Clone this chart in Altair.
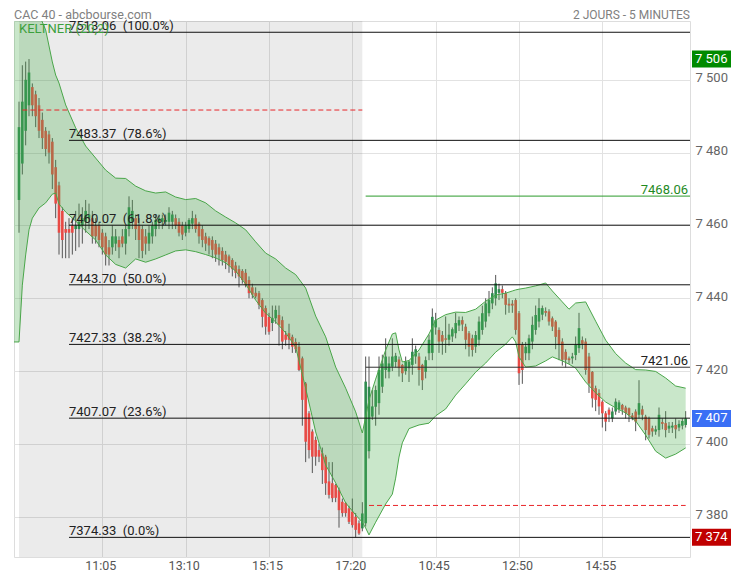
import json
import altair as alt
import pandas as pd

# ---------------- data ----------------
# session 1: 5-minute bars 09:00 .. 17:35 (index 0..103)
d1_open = [7467, 7477, 7486, 7493, 7498, 7496, 7493, 7489, 7486, 7485,
           7483, 7476, 7471, 7464, 7459, 7459, 7460, 7459, 7459, 7460,
           7461, 7462, 7462, 7460, 7460, 7458, 7457, 7454, 7454, 7455,
           7456, 7457, 7455, 7459, 7461, 7462, 7460, 7459, 7457, 7455,
           7457, 7459, 7461, 7461, 7461, 7461, 7461, 7462, 7461, 7460,
           7458, 7459, 7460.5, 7462, 7460.5, 7459, 7457, 7456.5, 7456, 7455,
           7454, 7453, 7452, 7451.5, 7450.5, 7449, 7448, 7447.5, 7447, 7445,
           7443, 7441.5, 7441.4, 7439.5, 7437.3, 7434.9, 7433.2, 7434.5, 7435.4, 7434,
           7430, 7430.4, 7429.4, 7428, 7426.7, 7423.5, 7416.6, 7408.4, 7403.4, 7401.1,
           7398.3, 7397.4, 7396.5, 7389.7, 7389.2, 7388.7, 7387.3, 7384.1, 7383.8, 7382.3,
           7381.4, 7380, 7378.2, 7376.8]
d1_high = [7494, 7504, 7505, 7505.7, 7499, 7497, 7495, 7491, 7487, 7486,
           7484, 7478, 7472, 7465, 7461, 7462, 7462, 7464, 7466, 7465,
           7467, 7466, 7464, 7462, 7461, 7459, 7458, 7456, 7460, 7459,
           7457, 7459, 7460, 7468, 7467, 7463, 7462, 7460, 7459, 7460,
           7461, 7463, 7463, 7463, 7463, 7465, 7464, 7463, 7462, 7461,
           7461, 7462, 7464, 7463, 7461, 7460, 7458, 7457, 7457, 7456,
           7455, 7454, 7453, 7452, 7451, 7450, 7449, 7448, 7448, 7446,
           7444, 7443, 7442, 7440, 7438, 7436, 7438, 7438, 7438, 7435,
           7431, 7433, 7430, 7429, 7428, 7424, 7417, 7409, 7404, 7402,
           7400, 7399, 7397, 7395, 7395, 7389, 7388, 7385, 7384, 7383,
           7385, 7381, 7379, 7384]
d1_low = [7458, 7474, 7482, 7490, 7490, 7487, 7484, 7481, 7479, 7477,
          7470, 7462, 7452, 7451, 7451, 7451, 7452, 7453, 7454, 7455,
          7458, 7459, 7455, 7455, 7454, 7452, 7449, 7449, 7452, 7453,
          7451, 7454, 7452, 7457, 7459, 7456, 7451, 7451, 7452, 7453,
          7455, 7457, 7459, 7459, 7460, 7459, 7459, 7459, 7457, 7456,
          7457, 7458, 7459, 7458, 7455, 7454, 7453, 7452, 7451, 7450,
          7449, 7449, 7448, 7447, 7446, 7445.5, 7443, 7444, 7443, 7440,
          7440, 7440, 7437, 7432, 7430, 7430, 7431, 7433, 7427, 7426,
          7427, 7426, 7425, 7425, 7420, 7405, 7395, 7396, 7392, 7394,
          7395, 7389, 7386, 7385, 7384, 7384, 7377, 7380, 7380, 7378,
          7377, 7374.33, 7375, 7376]
d1_close = [7487, 7494, 7500, 7502, 7493, 7490, 7486, 7484, 7481, 7480,
            7474, 7466, 7458, 7456, 7458, 7458, 7458, 7460, 7461, 7462,
            7464, 7463, 7457, 7457, 7456, 7454, 7452, 7452, 7457, 7457,
            7454, 7455, 7459, 7465, 7464, 7459, 7456, 7453, 7455, 7458,
            7460, 7461.5, 7462, 7462, 7461.5, 7463.5, 7463, 7460, 7458, 7457.5,
            7460, 7461.5, 7462, 7459, 7457, 7456, 7455, 7454.5, 7453.3, 7452,
            7452, 7450.5, 7450, 7449, 7448, 7447, 7446, 7445, 7443.7, 7441.4,
            7441, 7440.5, 7438.2, 7434.9, 7432.2, 7430.8, 7434.6, 7436.8, 7432.7, 7428.1,
            7428.6, 7428.6, 7426.7, 7426, 7420.3, 7412.1, 7400.6, 7398.3, 7396.5, 7396.5,
            7396.5, 7392.8, 7389.2, 7386, 7385.1, 7385.2, 7381.8, 7381, 7381, 7378.6,
            7377.7, 7376.4, 7375.4, 7380.9]

# session 2: 5-minute bars 09:00 .. 17:00 (index 104..200)
d2_open = [7378.2, 7398, 7407.5, 7410.2, 7411.2, 7415.7, 7420.3, 7419.8, 7421.2, 7422.5,
           7423.2, 7421.7, 7420, 7420.8, 7421.7, 7424, 7424, 7421.7, 7419.8, 7424.9,
           7425, 7432, 7431.3, 7429.9, 7429, 7428.6, 7429.5, 7430.4, 7432.5, 7434,
           7432.2, 7430.4, 7429, 7426.7, 7428.6, 7431.3, 7433.6, 7435.9, 7438.6, 7440,
           7441.5, 7442.5, 7441.4, 7438.5, 7438.5, 7439.5, 7435.9, 7427.2, 7424.9, 7424.9,
           7428.1, 7431.3, 7433.6, 7435.5, 7436.5, 7436.4, 7434.5, 7433.6, 7431.3, 7428.1,
           7425.3, 7423.5, 7423.5, 7424.4, 7426.3, 7428.5, 7428.1, 7424, 7419.8, 7415.3,
           7414, 7411.6, 7408.4, 7409.4, 7407, 7408.9, 7409.5, 7410.7, 7410, 7409.8,
           7407.8, 7408.9, 7408, 7409.5, 7407.5, 7407, 7404.3, 7403.4, 7403.8, 7406,
           7405.7, 7404.2, 7404.5, 7405.2, 7404.5, 7405, 7405.2]
d2_high = [7424, 7424, 7414.8, 7416, 7424, 7424.5, 7429, 7424, 7429, 7425,
           7424, 7422, 7424, 7423, 7429, 7427, 7425, 7422, 7424, 7430,
           7437.2, 7436, 7432, 7431, 7435, 7433, 7432, 7436, 7435, 7435,
           7433, 7431, 7430, 7431, 7435, 7438, 7440, 7442, 7443, 7446.4,
           7444, 7443.5, 7442, 7440, 7439.5, 7440, 7436.5, 7428, 7428, 7430,
           7435, 7438, 7440, 7438, 7437.5, 7437, 7435, 7434, 7432, 7429,
           7426, 7424, 7425, 7429.5, 7436, 7429.5, 7429, 7425, 7420, 7416,
           7415, 7412, 7409, 7410, 7410, 7412.5, 7412, 7411, 7410.5, 7410,
           7408.5, 7409.5, 7417.5, 7410.5, 7408, 7407.5, 7405, 7405, 7410, 7407,
           7409, 7406, 7406, 7407, 7406.5, 7407, 7409]
d2_low = [7377.3, 7396, 7406.6, 7405, 7408, 7414, 7418, 7418, 7420, 7421,
          7418.5, 7417, 7419, 7417, 7419, 7422, 7416, 7414.8, 7418, 7423,
          7423, 7430, 7425, 7424.5, 7425, 7427, 7428, 7429, 7431, 7431,
          7426, 7424, 7424, 7425, 7427, 7430, 7432, 7435, 7437, 7438,
          7439.5, 7440, 7435.5, 7436, 7436, 7430, 7416.2, 7416.5, 7423, 7423,
          7426, 7430, 7432, 7434, 7435, 7432.5, 7431, 7426, 7423, 7421.5,
          7421, 7422, 7422, 7423, 7425, 7426, 7419, 7414, 7410, 7409,
          7408, 7404.5, 7403.5, 7406, 7406, 7408, 7408.5, 7408, 7407, 7406,
          7406.5, 7403.5, 7407, 7406.5, 7401, 7401.5, 7402, 7402.5, 7402, 7404,
          7401.8, 7403, 7403, 7401.5, 7403.5, 7404, 7404.5]
d2_close = [7417.1, 7415.7, 7410.3, 7414.8, 7420.3, 7422.1, 7424, 7422.1, 7424, 7424.2,
            7420.8, 7419.4, 7422.6, 7422.6, 7425.3, 7426, 7420.3, 7417.5, 7423, 7428.6,
            7434.9, 7434, 7428.1, 7428.1, 7428.6, 7430, 7431.5, 7433.2, 7434, 7432.8,
            7428.6, 7426.7, 7425.8, 7429.9, 7433.6, 7435.9, 7438.6, 7439.5, 7441.4, 7444.1,
            7442.5, 7441.5, 7438.2, 7438, 7438, 7431.3, 7419.4, 7420.3, 7426.7, 7429,
            7432.7, 7435.4, 7437.3, 7437.3, 7436, 7433.6, 7432.2, 7429.4, 7427.2, 7423.1,
            7423.1, 7423, 7424, 7427.2, 7431.8, 7427.5, 7420.3, 7416.6, 7412.5, 7412.1,
            7410.3, 7408.4, 7406.1, 7408, 7408.9, 7411.6, 7411.4, 7409.4, 7408.5, 7407.9,
            7407.3, 7406.1, 7411.2, 7408, 7403.8, 7402.5, 7403.4, 7404, 7408, 7405.5,
            7403.8, 7405, 7405, 7404, 7405.5, 7406.3, 7407]

# Keltner channel vertices (bar index, upper, lower)
band_idx = [-1.5, 0, 1, 2, 3, 4, 6, 8, 10, 11,
            12, 14, 17, 20, 23, 26, 29, 32, 35, 38,
            41, 44, 47, 50, 53, 56, 59, 62, 65, 68,
            71, 74, 77, 80, 83, 86, 89, 92, 95, 98,
            101, 103, 104, 105, 107, 110, 112, 113, 114, 115,
            117, 120, 123, 125, 128, 131, 134, 137, 140, 143,
            146, 148, 149, 150, 152, 155, 158, 160, 163, 165,
            167, 170, 173, 176, 179, 182, 185, 188, 191, 194,
            197, 200]
band_upper = [7545, 7545, 7542, 7538, 7532, 7526, 7518, 7513.7, 7504.9, 7501.3,
              7499.1, 7493.1, 7486.8, 7481.8, 7478.5, 7475.2, 7473.0, 7472.9, 7470.8, 7469.5,
              7468.9, 7469.2, 7467.8, 7467.1, 7467.4, 7466.2, 7464.0, 7462.3, 7460.7, 7458.8,
              7455.5, 7452.4, 7450.8, 7448.3, 7446.5, 7442.8, 7435.1, 7429.4, 7421.1, 7415.3,
              7408.8, 7403.0, 7407.4, 7412.1, 7417.8, 7425.8, 7430.2, 7430.5, 7425.8, 7422.5,
              7422.9, 7425.8, 7430.2, 7434.0, 7435.5, 7436.2, 7436.1, 7437.0, 7439.2, 7440.9,
              7441.4, 7442.0, 7442.3, 7442.5, 7442.8, 7443.4, 7444.2, 7442.0, 7439.0, 7437.0,
              7438.7, 7439.0, 7433.7, 7428.5, 7424.8, 7422.2, 7420.4, 7420.3, 7419.9, 7418.1,
              7415.9, 7415.3]
band_lower = [7428.0, 7428.0, 7443.6, 7451.9, 7458.8, 7462.0, 7464.8, 7466.2, 7468.6, 7468.9,
              7465.9, 7463.7, 7461.2, 7458.5, 7456.0, 7451.9, 7449.3, 7448.3, 7450.8, 7449.9,
              7450.8, 7451.9, 7453.0, 7453.3, 7452.8, 7452.0, 7451.1, 7449.7, 7447.5, 7443.9,
              7439.5, 7435.9, 7433.5, 7430.5, 7426.6, 7415.3, 7403.3, 7394.2, 7389.3, 7383.8,
              7380.5, 7378.5, 7376.9, 7375.0, 7378.5, 7383.5, 7386.2, 7390.6, 7396.4, 7400.3,
              7404.2, 7405.2, 7405.7, 7407.7, 7409.6, 7413.4, 7416.5, 7419.7, 7422.2, 7425.2,
              7427.4, 7429.4, 7428.0, 7423.9, 7421.1, 7421.4, 7422.8, 7423.9, 7422.8, 7421.9,
              7420.8, 7417.0, 7414.0, 7411.5, 7409.9, 7408.5, 7406.3, 7402.4, 7398.0, 7396.1,
              7397.2, 7398.9]

# x axis ticks (bar index) and their time labels
tick_idx = [25, 50, 75, 100, 125, 150, 175]
tick_labels = ["11:05", "13:10", "15:15", "17:20", "10:45", "12:50", "14:55"]
y_ticks = [7380, 7400, 7420, 7440, 7460, 7480, 7500]

# Fibonacci retracement levels
fib_values = [7513.06, 7483.37, 7460.07, 7443.70, 7427.33, 7407.07, 7374.33]
fib_pcts = ["100.0%", "78.6%", "61.8%", "50.0%", "38.2%", "23.6%", "0.0%"]
fib_start = 15

session1 = (0, 103)
session2_start = 104
prev_close_1 = 7491.7
prev_close_2 = 7383.1
level_green = 7468.06
level_dark = 7421.06

X_MIN, X_MAX = -1.5, 201.3
Y_MIN, Y_MAX = 7368.94, 7516.15

# ---------------- frames ----------------
n1 = len(d1_close)
candles = pd.DataFrame({
    "idx": list(range(n1 + len(d2_close))),
    "open": d1_open + d2_open,
    "high": d1_high + d2_high,
    "low": d1_low + d2_low,
    "close": d1_close + d2_close,
})
band = pd.DataFrame({"idx": band_idx, "upper": band_upper, "lower": band_lower})
fib = pd.DataFrame({
    "v": fib_values,
    "x0": [fib_start] * len(fib_values),
    "x1": [X_MAX] * len(fib_values),
    "label": [f"{v:.2f}\u00a0\u00a0({p})" for v, p in zip(fib_values, fib_pcts)],
})
shade = pd.DataFrame({"x0": [session1[0]], "x1": [session1[1]]})
dashed = pd.DataFrame({"x0": [1, session2_start + 1], "x1": [session1[1], candles["idx"].max()],
                       "v": [prev_close_1, prev_close_2]})
lvl_green = pd.DataFrame({"x0": [session2_start], "x1": [X_MAX], "v": [level_green],
                          "label": [f"{level_green:.2f}"]})
lvl_dark = pd.DataFrame({"x0": [session2_start], "x1": [X_MAX], "v": [level_dark],
                         "label": [f"{level_dark:.2f}"]})


def fr(v):
    return f"{round(v):,}".replace(",", " ")


box_vals = [max(d1_high), d2_close[-1], min(d1_low)]
boxes = pd.DataFrame({"v": box_vals, "kind": ["high", "last", "low"],
                      "label": [fr(v) for v in box_vals]})
head_left = pd.DataFrame({"t": ["CAC 40 - abcbourse.com"]})
head_right = pd.DataFrame({"t": ["2 JOURS - 5 MINUTES"]})
kelt = pd.DataFrame({"t": ["KELTNER (20,2)"]})

# ---------------- encodings ----------------
FONT = "Roboto"
label_expr_x = f"{json.dumps(tick_labels)}[indexof({json.dumps(tick_idx)}, datum.value)]"
xscale = alt.Scale(domain=[X_MIN, X_MAX], nice=False, zero=False)
yscale = alt.Scale(domain=[Y_MIN, Y_MAX], nice=False, zero=False)
xaxis = alt.Axis(values=tick_idx, labelExpr=label_expr_x, grid=True, gridColor="#e2e2e2",
                 ticks=False, domain=False, labelColor="#555555", labelFontSize=12.5,
                 labelFont=FONT, labelPadding=2, labelBaseline="top", labelOverlap=False,
                 labelFlush=False, labelOffset=-2, title=None)
yaxis = alt.Axis(orient="right", values=y_ticks,
                 labelExpr="replace(format(datum.value, ','), ',', ' ')",
                 grid=True, gridColor="#e2e2e2", ticks=False, domain=False,
                 labelColor="#666666", labelFontSize=13, labelFont=FONT, labelPadding=5,
                 labelOffset=-2, title=None)


def X(f):
    return alt.X(f"{f}:Q", scale=xscale, axis=xaxis)


def Y(f):
    return alt.Y(f"{f}:Q", scale=yscale, axis=yaxis)


GREEN_C = "#2e8b4e"
RED_C = "#e84a45"

bg = alt.Chart(shade).mark_rect(color="#000000", opacity=0.08).encode(
    x=X("x0"), x2="x1", y=alt.value(0), y2=alt.value(536))

wicks = alt.Chart(candles).mark_rule(color="#555555", strokeWidth=1).encode(
    x=X("idx"), y=Y("low"), y2="high")

bodies = alt.Chart(candles).mark_rule(strokeWidth=2.6).encode(
    x=X("idx"), y=Y("open"), y2="close",
    color=alt.condition("datum.close >= datum.open", alt.value(GREEN_C), alt.value(RED_C)))

area = alt.Chart(band).mark_area(color="#4caf50", opacity=0.3, clip=True).encode(
    x=X("idx"), y=Y("upper"), y2="lower")
up_line = alt.Chart(band).mark_line(color="#4aa64a", strokeWidth=1, clip=True).encode(
    x=X("idx"), y=Y("upper"))
lo_line = alt.Chart(band).mark_line(color="#4aa64a", strokeWidth=1, clip=True).encode(
    x=X("idx"), y=Y("lower"))

fib_rules = alt.Chart(fib).mark_rule(color="#111111", strokeWidth=1).encode(
    x=X("x0"), x2="x1", y=Y("v"))
fib_text = alt.Chart(fib).mark_text(align="left", baseline="alphabetic", dy=-2, fontSize=13,
                                    font=FONT, color="#222222").encode(
    x=X("x0"), y=Y("v"), text="label:N")

dash_rules = alt.Chart(dashed).mark_rule(color="#e8262a", strokeWidth=1, strokeDash=[5, 3]).encode(
    x=X("x0"), x2="x1", y=Y("v"))

g_rule = alt.Chart(lvl_green).mark_rule(color="#2a9a2a", strokeWidth=1).encode(
    x=X("x0"), x2="x1", y=Y("v"))
g_text = alt.Chart(lvl_green).mark_text(align="right", baseline="alphabetic", dx=-2, dy=-2,
                                        fontSize=13, font=FONT, color="#1f8a1f").encode(
    x=X("x1"), y=Y("v"), text="label:N")
d_rule = alt.Chart(lvl_dark).mark_rule(color="#333333", strokeWidth=1).encode(
    x=X("x0"), x2="x1", y=Y("v"))
d_text = alt.Chart(lvl_dark).mark_text(align="right", baseline="alphabetic", dx=-2, dy=-2,
                                       fontSize=13, font=FONT, color="#222222").encode(
    x=X("x1"), y=Y("v"), text="label:N")

kelt_text = alt.Chart(kelt).mark_text(align="left", baseline="middle", fontSize=13, font=FONT,
                                      color="#3ca03c").encode(
    x=alt.value(5), y=alt.value(7.5), text="t:N")

h_left = alt.Chart(head_left).mark_text(align="left", baseline="middle", fontSize=12.5, font=FONT,
                                        color="#808080").encode(
    x=alt.value(0), y=alt.value(-6.5), text="t:N")
h_right = alt.Chart(head_right).mark_text(align="right", baseline="middle", fontSize=12,
                                          font=FONT, color="#808080").encode(
    x=alt.value(676), y=alt.value(-6.5), text="t:N")

box_rect = alt.Chart(boxes).mark_tick(orient="horizontal", thickness=17, size=40, opacity=1).encode(
    x=alt.value(698), y=Y("v"),
    color=alt.Color("kind:N", scale=alt.Scale(domain=["high", "last", "low"],
                                              range=["#008a00", "#3a6ff5", "#c00000"]),
                    legend=None))
box_text = alt.Chart(boxes).mark_text(align="left", baseline="middle", fontSize=13, font=FONT,
                                      color="#ffffff").encode(
    x=alt.value(681), y=Y("v"), text="label:N")

chart = alt.layer(
    bg, wicks, bodies, area, up_line, lo_line,
    fib_rules, fib_text, dash_rules, g_rule, g_text, d_rule, d_text,
    kelt_text, h_left, h_right, box_rect, box_text,
).properties(
    width=676, height=536,
    padding={"left": 6, "top": 13, "right": 41, "bottom": 15},
    autosize=alt.AutoSizeParams(type="none"),
).configure_view(stroke="#d0d0d0").configure(font=FONT)

chart.save("out.html", embed_options={"renderer": "svg", "actions": False})
